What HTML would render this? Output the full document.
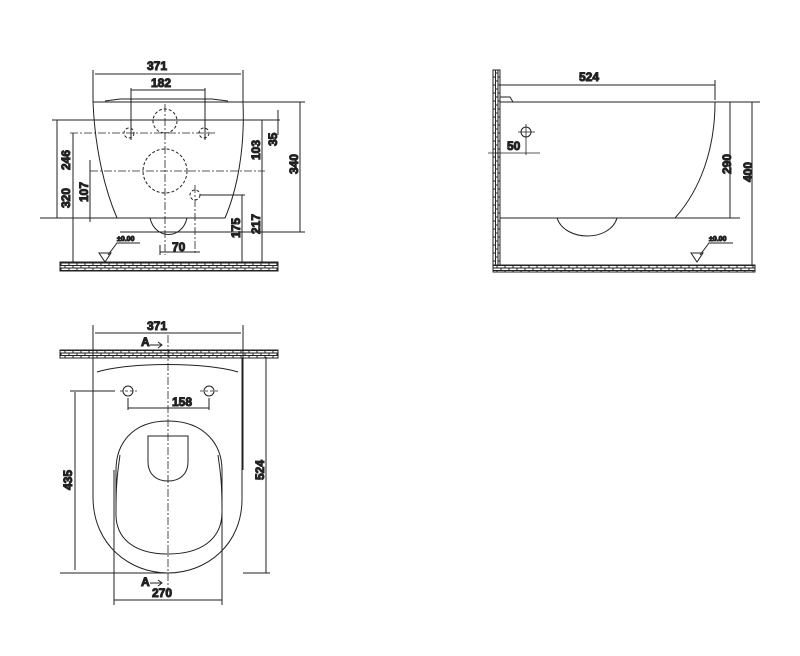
<!DOCTYPE html>
<html><head><meta charset="utf-8"><style>
html,body{margin:0;padding:0;background:#fff;}
svg{display:block;}
text{font-family:"Liberation Sans",sans-serif;font-weight:bold;font-size:12px;fill:#222;}
</style></head><body>
<svg width="800" height="656" viewBox="0 0 800 656" xmlns="http://www.w3.org/2000/svg">
<defs>
<pattern id="brick" width="8" height="5" patternUnits="userSpaceOnUse">
<rect width="8" height="5" fill="#fff"/>
<path d="M0 0.5H8M0 3H8M1 0.5V3M5 3V5" stroke="#222" stroke-width="1" fill="none"/>
</pattern>
<pattern id="brickv" width="5" height="8" patternUnits="userSpaceOnUse">
<rect width="5" height="8" fill="#fff"/>
<path d="M0.5 0V8M3 0V8M0.5 1H3M3 5H5" stroke="#222" stroke-width="1" fill="none"/>
</pattern>
</defs>
<g stroke="#222" stroke-width="1" fill="none">
<!-- ===== VIEW 1 FRONT ===== -->
<rect x="60" y="262" width="218" height="9" fill="url(#brick)" stroke="#222"/>
<path d="M93 102 H243 M93 102 C95 150 105 190 117 218 H225 C237 190 245 150 243 102"/>
<path d="M105 101 L120 99 H212 L228 101" />
<path d="M150 218 C155 240 182 240 187 218"/>
<path d="M93 70 V102 M243 70 V102 M95 74 H241"/>
<path d="M131 88 V140 M205 88 V140 M131 90 H205"/>
<g stroke-dasharray="3,2">
<circle cx="165" cy="121" r="12"/>
<circle cx="165" cy="171" r="22"/>
<circle cx="129" cy="133" r="5"/>
<circle cx="204" cy="133" r="5"/>
<circle cx="195" cy="195" r="5"/>
</g>
<g stroke-dasharray="8,2,2,2" stroke-width="0.8">
<path d="M165 104 V255 M90 171 H265 M70 133 H215 M195 185 V255"/>
</g>
<path d="M52 120 H280 M200 195 H245 M40 218 H120 M120 232 H305 M243 102 H305"/>
<path d="M57 120 V218 M73 133 V262 M90 160 V222 M242 195 V262 M262 120 V262 M278 110 V135 M300 102 V232"/>
<path d="M160 252 H200 M160 245 V255"/>
<text x="147" y="70">371</text>
<text x="151" y="87">182</text>
<text x="172" y="251">70</text>
<text transform="translate(70,170) rotate(-90)">246</text>
<text transform="translate(70,208) rotate(-90)">320</text>
<text transform="translate(88,202) rotate(-90)">107</text>
<text transform="translate(260,160) rotate(-90)">103</text>
<text transform="translate(277,146) rotate(-90)">35</text>
<text transform="translate(298,174) rotate(-90)">340</text>
<text transform="translate(240,238) rotate(-90)">175</text>
<text transform="translate(260,234) rotate(-90)">217</text>
<path d="M99 253 H111 L105 262 Z M108 255 L117 243 H140"/>
<text x="117" y="241" style="font-size:7px">±0.00</text>

<!-- ===== VIEW 2 SIDE ===== -->
<rect x="493" y="70" width="7" height="202" fill="url(#brickv)" stroke="#222"/>
<rect x="493" y="265" width="262" height="7" fill="url(#brick)" stroke="#222"/>
<path d="M500 102 H715 C715 150 700 190 675 218 H500"/>
<path d="M500 97 H510 L513 102"/>
<path d="M557 218 C565 242 610 242 617 218"/>
<path d="M500 85 H715 M715 80 V100"/>
<circle cx="526" cy="132" r="5"/>
<path d="M518 132 H535 M526 124 V155 M488 153 H540" stroke-width="0.8"/>
<path d="M675 218 H740 M715 102 H760"/>
<path d="M730 102 V218 M752 102 V265"/>
<text x="579" y="81">524</text>
<text x="507" y="150">50</text>
<text transform="translate(731,174) rotate(-90)">290</text>
<text transform="translate(752,182) rotate(-90)">400</text>
<path d="M691 253 H703 L697 262 Z M700 255 L709 243 H733"/>
<text x="709" y="241" style="font-size:7px">±0.00</text>

<!-- ===== VIEW 3 TOP ===== -->
<rect x="60" y="350" width="218" height="8" fill="url(#brick)" stroke="#222"/>
<path d="M93 325 V470 M243 325 V470 M95 333 H241"/>
<path d="M97 372 C130 362 205 362 238 372"/>
<path d="M93 358 V497 C93 545 130 573 168 573 C206 573 243 545 242 497 V358"/>
<path d="M168 421 C205 421 222 445 222 470 V512 C222 540 200 554 168 554 C136 554 115 540 116 512 V470 C116 445 131 421 168 421 Z"/>
<path d="M120 455 C118 470 116 480 116 510 M218 455 C220 470 222 480 222 510"/>
<path d="M148 436 H188 V462 C188 474 180 481 168 481 C156 481 148 474 148 462 Z"/>
<circle cx="128" cy="391" r="5"/>
<circle cx="209" cy="391" r="5"/>
<g stroke-dasharray="3,2" stroke-width="0.8">
<path d="M120 391 H137 M200 391 H218"/>
</g>
<path d="M168 335 V592" stroke-dasharray="8,2,2,2" stroke-width="0.8"/>
<path d="M128 398 V410 M209 398 V410 M128 408 H209"/>
<path d="M70 391 H115 M75 392 V570 M60 573 H168 M266 357 V573 M243 573 H270"/>
<path d="M114 470 V605 M222 470 V605 M114 600 H222"/>
<path d="M150 345 H162 M158 342 L162 345 L158 348 M150 583 H162 M158 580 L162 583 L158 586"/>
<text x="147" y="330">371</text>
<text x="172" y="406">158</text>
<text x="152" y="597">270</text>
<text x="141" y="346">A</text>
<text x="141" y="586">A</text>
<text transform="translate(72,490) rotate(-90)">435</text>
<text transform="translate(264,480) rotate(-90)">524</text>
</g>
</svg>
</body></html>
